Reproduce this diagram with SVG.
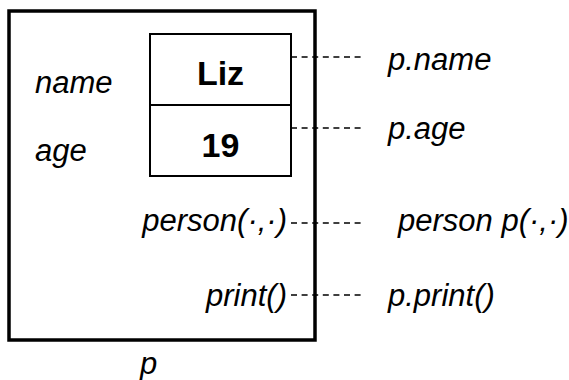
<svg xmlns="http://www.w3.org/2000/svg" width="569" height="380" viewBox="0 0 569 380">
<style>
.lbl{font-family:"Liberation Sans",Arial,sans-serif;font-style:italic;font-size:31px;fill:#000}
.val{font-family:"Liberation Sans",Arial,sans-serif;font-weight:bold;font-size:34px;fill:#000}
.dash{stroke:#000;stroke-width:1.5;stroke-dasharray:6,4.6;fill:none}
</style>
<rect x="0" y="0" width="569" height="380" fill="#fff"/>
<g id="object-p">
<rect x="9" y="11" width="306" height="329" fill="none" stroke="#000" stroke-width="3.5"/>
<text class="lbl" x="140" y="373.5">p</text>
</g>
<g id="field-name">
<rect x="150" y="34" width="141" height="71" fill="none" stroke="#000" stroke-width="2"/>
<text class="lbl" x="35" y="93">name</text>
<text class="val" x="220.5" y="85" text-anchor="middle">Liz</text>
</g>
<g id="field-age">
<rect x="150" y="105" width="141" height="71" fill="none" stroke="#000" stroke-width="2"/>
<text class="lbl" x="35" y="161">age</text>
<text class="val" x="220.5" y="157" text-anchor="middle">19</text>
</g>
<g id="method-person">
<text class="lbl" x="287" y="231" text-anchor="end">person(·,·)</text>
</g>
<g id="method-print">
<text class="lbl" x="287" y="306" text-anchor="end">print()</text>
</g>
<g id="access-name"><text class="lbl" x="388" y="70">p.name</text></g>
<g id="access-age"><text class="lbl" x="388" y="139">p.age</text></g>
<g id="access-person"><text class="lbl" x="398" y="231">person p(·,·)</text></g>
<g id="access-print"><text class="lbl" x="388" y="306">p.print()</text></g>
<g id="connectors">
<line class="dash" x1="291" y1="57" x2="363" y2="57"/>
<line class="dash" x1="291" y1="128" x2="363" y2="128"/>
<line class="dash" x1="291" y1="223" x2="363" y2="223"/>
<line class="dash" x1="291" y1="295" x2="363" y2="295"/>
</g>
</svg>
